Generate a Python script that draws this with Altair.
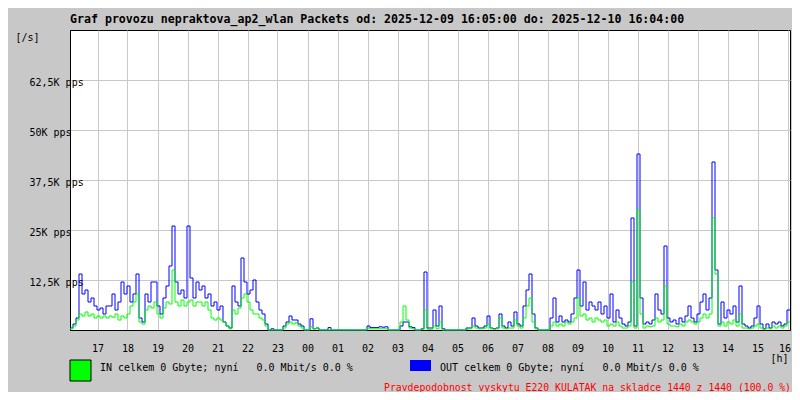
import altair as alt
import pandas as pd

TITLE = "Graf provozu nepraktova_ap2_wlan Packets od: 2025-12-09 16:05:00 do: 2025-12-10 16:04:00"
STEP_MIN = 6  # minutes per sample, first sample at 16:05

# OUT (blue) packets per second, in thousands
OUT_K = [
    0.5, 1.5, 3, 14, 9, 10, 7, 8, 6, 5,
    5.5, 4, 6, 6, 9, 5, 7, 12, 9, 11,
    7, 9, 14, 3, 2, 9, 7, 12, 12, 6,
    4, 8, 11, 16, 26, 12, 9, 10, 8, 26,
    13, 8, 12, 10, 11, 8, 9, 6, 7, 5,
    6, 2, 1, 0.5, 11, 7, 6, 18, 12, 9,
    10, 12.5, 7, 5, 4, 1.5, 0, 0.3, 0, 0,
    0, 1, 2, 3.5, 2.5, 2.5, 1.5, 1, 0, 0,
    2.8, 0.3, 0.5, 0, 0, 0, 0.6, 0, 0, 0,
    0, 0, 0, 0, 0, 0, 0, 0, 0, 1,
    0.6, 0.6, 0.6, 0.8, 0.7, 0.8, 0, 0, 0, 0,
    1, 2, 2, 0.8, 0.6, 0, 0, 0.3, 14.5, 0.5,
    0.5, 5, 1, 6, 0.3, 0, 0, 0, 0, 0,
    0, 0, 0.5, 0.5, 3, 1, 0.5, 0.5, 1, 3.5,
    0.5, 0.3, 0.5, 4, 1, 0.5, 2, 1, 4.5, 1.5,
    1, 6, 10, 14, 4, 0.5, 0, 0, 0, 0,
    3, 8, 2, 3.5, 2, 2.5, 2, 4, 8, 15,
    6, 12, 5, 7, 6, 5, 7, 4, 6, 3,
    9, 2, 5, 3, 1.5, 1, 2, 28, 1, 44,
    8, 1.5, 2, 1.5, 2.5, 9, 5, 4, 21, 3,
    2, 2.5, 1.5, 3, 2, 3.5, 6, 3, 2, 4,
    7, 9, 5, 8, 42, 15, 1.5, 7, 3, 5,
    4, 6, 2, 11, 1.5, 1, 0.5, 1, 3, 6,
    1.5, 0.3, 1.5, 0.5, 2, 1.5, 2, 1, 1.5, 5,
]

# IN (green) packets per second, in thousands
IN_K = [
    0.3, 1, 2.5, 4, 3.5, 4.5, 3.5, 4, 3, 3.5,
    3, 3.5, 3, 3.5, 3.2, 4, 2.5, 3.5, 3, 4,
    6, 7, 9, 2, 1.5, 5, 6, 5.5, 7, 4,
    3, 5.5, 7, 6.5, 15, 7, 6, 7.5, 6, 7,
    7.5, 6, 7, 7, 6, 7, 5, 3, 2.5, 3,
    2.5, 2, 1, 0.3, 5, 4, 5.5, 8, 9, 7,
    5, 4, 4, 3, 2.5, 1, 0, 0, 0, 0,
    0, 0.5, 1.5, 2, 1.5, 1.8, 1, 0.5, 0, 0,
    0.8, 0.3, 0.5, 0, 0, 0, 0, 0, 0, 0,
    0, 0, 0, 0, 0, 0, 0, 0, 0, 0.5,
    0.3, 0.3, 0.3, 0.3, 0.3, 0.3, 0, 0, 0, 0,
    2, 6, 2.5, 0.5, 0.3, 0, 0, 0.2, 5, 0.2,
    0.2, 1, 0.3, 2, 0, 0, 0, 0, 0, 0,
    0, 0, 0.2, 0.3, 1, 0.5, 0.3, 0.3, 0.5, 1.5,
    0.3, 0.2, 0.3, 3, 0.5, 0.3, 0.5, 0.5, 2.5, 1,
    0.5, 3, 6, 8, 2, 0.3, 0, 0, 0, 0,
    1, 2, 1, 1.5, 1, 2, 1.5, 2, 3, 8,
    3.5, 4, 2.5, 3, 2, 3, 2.5, 2, 2.5, 1,
    1.5, 1, 2, 1, 0.5, 0.5, 1, 12, 0.5, 30,
    4, 0.5, 1, 0.8, 1, 3, 2, 2.5, 11, 1.5,
    1, 1, 0.8, 1.5, 1, 2, 2.5, 2, 1.5, 2,
    3, 4, 3, 4, 28, 14, 1, 2, 1, 2,
    1.5, 2.5, 1, 4, 0.5, 0.5, 0.3, 0.5, 1, 1.5,
    0.5, 0.2, 0.5, 0.3, 1, 0.5, 1, 0.5, 1, 2,
]

HOUR_LABELS = ["17", "18", "19", "20", "21", "22", "23", "00", "01", "02", "03", "04",
               "05", "06", "07", "08", "09", "10", "11", "12", "13", "14", "15", "16"]
HOUR_POS_MIN = [55 + 60 * k for k in range(len(HOUR_LABELS))]  # minutes after 16:05
Y_TICKS = [12500, 25000, 37500, 50000, 62500]
Y_LABELS = ["12,5K pps", "25K pps", "37,5K pps", "50K pps", "62,5K pps"]

NB = "\u00a0"
LEGEND_IN = "IN celkem 0 Gbyte; nyní   0.0 Mbit/s 0.0 %".replace(" ", NB)
LEGEND_OUT = "OUT celkem 0 Gbyte; nyní   0.0 Mbit/s 0.0 %".replace(" ", NB)
FOOTER = "Pravdepodobnost vyskytu E220 KULATAK na skladce 1440 z 1440 (100.0 %)".replace(" ", NB)

MONO = "DejaVu Sans Mono"


def series_frame(vals):
    rows = [{"m": i * STEP_MIN, "v": v * 1000} for i, v in enumerate(vals)]
    rows.append({"m": 1440, "v": vals[-1] * 1000})
    return pd.DataFrame(rows)


out_df = series_frame(OUT_K)
in_df = series_frame(IN_K)

hour_expr = "[" + ",".join("'%s'" % h for h in HOUR_LABELS) + "][floor(datum.value/60)]"
ylab_expr = "{" + ",".join("'%d':'%s'" % (t, l) for t, l in zip(Y_TICKS, Y_LABELS)) + "}[datum.value+'']"

x_enc = alt.X(
    "m:Q",
    scale=alt.Scale(domain=[0, 1440], nice=False, zero=False),
    axis=alt.Axis(
        values=HOUR_POS_MIN, labelExpr=hour_expr, grid=True, gridColor="#c8c8c8",
        gridWidth=1, ticks=False, domainColor="black", labelFont=MONO, labelFontSize=10,
        labelColor="black", labelPadding=13, labelBaseline="top", labelFlush=False,
        labelOverlap=False, labelSeparation=0,
        labelOffset={"condition": {"test": "datum.value > 1400", "value": -3}, "value": 0},
        title="[h]", titleFont=MONO, titleFontSize=10, titleFontWeight="normal",
        titleColor="black", titleAlign="right", titleBaseline="top", titleX=718, titleY=23,
    ),
)
y_enc = alt.Y(
    "v:Q",
    scale=alt.Scale(domain=[0, 75000], nice=False),
    axis=alt.Axis(
        values=Y_TICKS, labelExpr=ylab_expr, grid=True, gridColor="#c8c8c8", gridWidth=1,
        ticks=False, domainColor="black", labelFont=MONO, labelFontSize=10,
        labelColor="black", labelAlign="left", labelPadding=41, labelBaseline="middle",
        labelOffset=2, labelOverlap=False,
        title="[/s]", titleFont=MONO, titleFontSize=10, titleFontWeight="normal",
        titleColor="black", titleAngle=0, titleAlign="left", titleBaseline="top",
        titleX=-55, titleY=2,
    ),
)

out_line = alt.Chart(out_df).mark_line(color="#0000ff", strokeWidth=1, interpolate="step-after").encode(x=x_enc, y=y_enc)
in_line = alt.Chart(in_df).mark_line(color="#00ff00", strokeWidth=1, interpolate="step-after").encode(x=x_enc, y=y_enc)

one = pd.DataFrame({"k": [0]})
title_text = alt.Chart(one).mark_text(font=MONO, fontSize=11.6, fontWeight="bold", align="left",
                                      baseline="alphabetic", color="black").encode(
    x=alt.value(0), y=alt.value(-7), text=alt.value(TITLE))
green_box = alt.Chart(one).mark_rect(fill="#00ff00", stroke="black", strokeWidth=1).encode(
    x=alt.value(0), x2=alt.value(21), y=alt.value(330), y2=alt.value(351))
blue_box = alt.Chart(one).mark_rect(fill="#0000ff").encode(
    x=alt.value(340), x2=alt.value(361), y=alt.value(330), y2=alt.value(341))
in_text = alt.Chart(one).mark_text(font=MONO, fontSize=10, align="left", baseline="alphabetic", color="black").encode(
    x=alt.value(30), y=alt.value(341), text=alt.value(LEGEND_IN))
out_text = alt.Chart(one).mark_text(font=MONO, fontSize=10, align="left", baseline="alphabetic", color="black").encode(
    x=alt.value(370), y=alt.value(341), text=alt.value(LEGEND_OUT))
footer = alt.Chart(one).mark_text(font=MONO, fontSize=9.8, align="right", baseline="alphabetic", color="#ff0000").encode(
    x=alt.value(721), y=alt.value(361), text=alt.value(FOOTER))

chart = alt.layer(out_line, in_line, title_text, green_box, blue_box, in_text, out_text, footer).properties(
    width=720,
    height=300,
    background="#c8c8c8",
    padding={"left": 62, "top": 22, "right": 2, "bottom": 62},
    autosize=alt.AutoSizeParams(type="none"),
).configure_view(stroke="black", strokeWidth=1, fill="white").configure_axis(labelOverlap=False)

chart.save("out.html", embed_options={"renderer": "svg", "actions": False})
